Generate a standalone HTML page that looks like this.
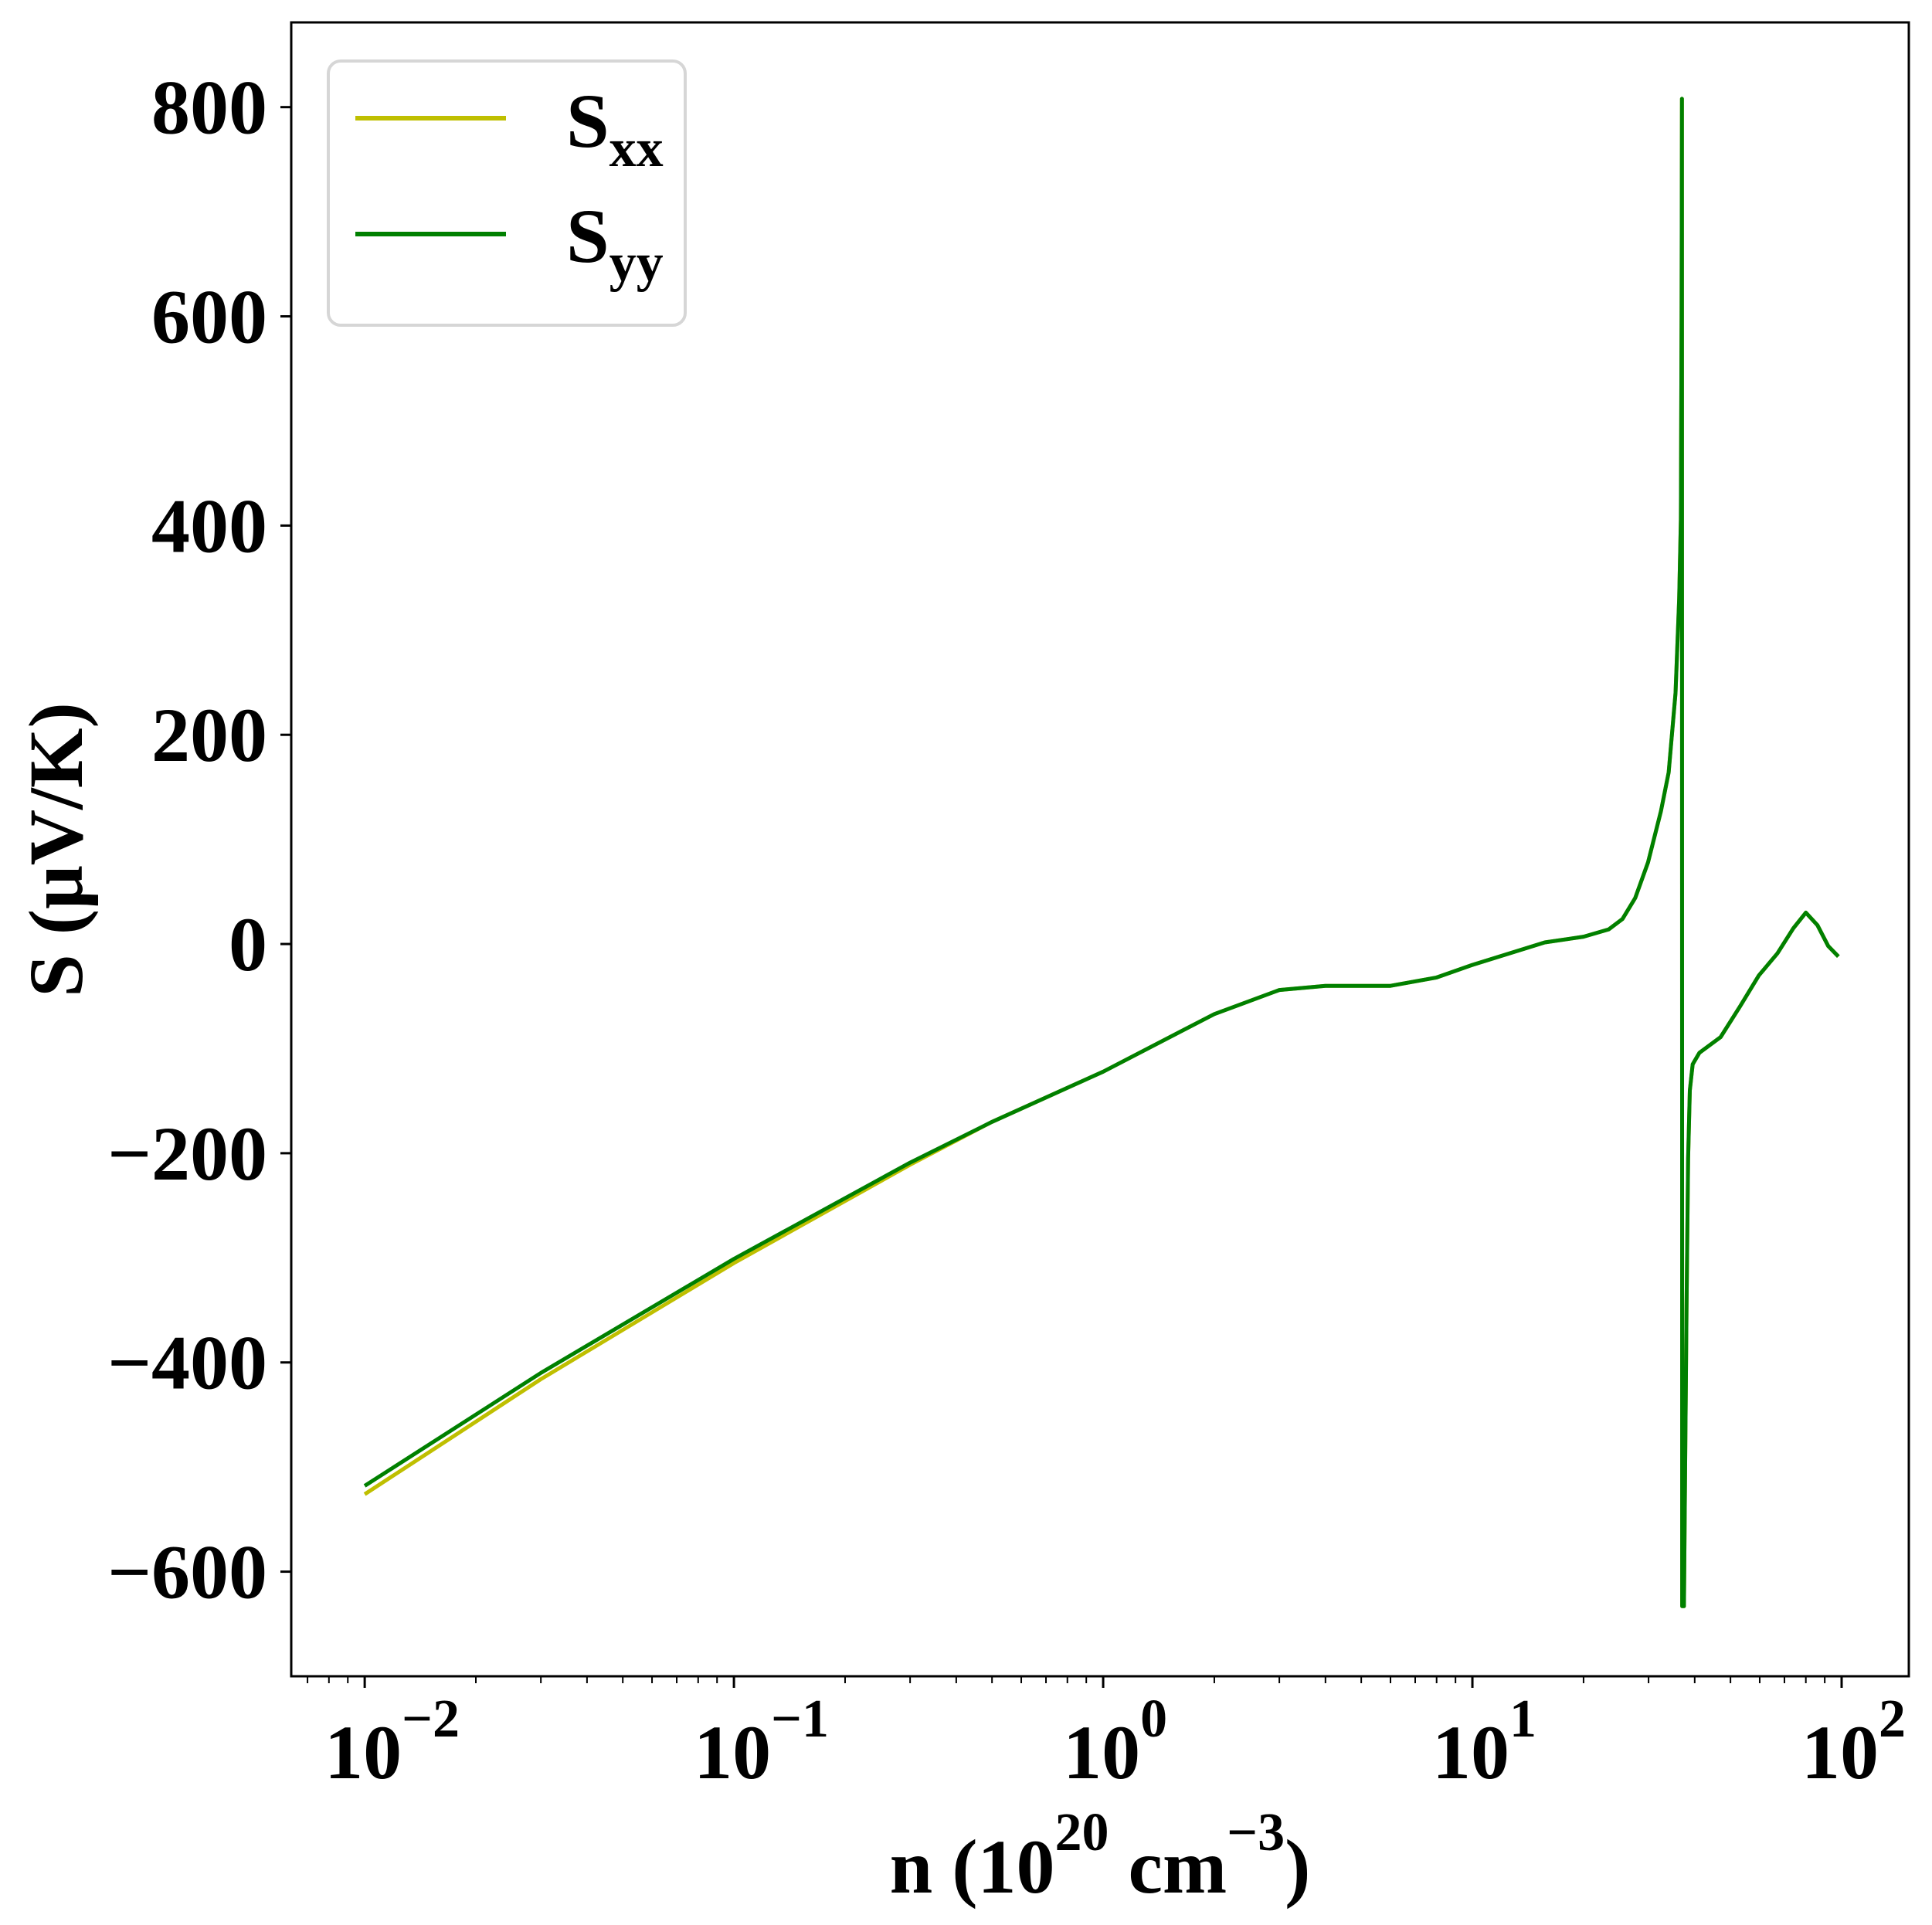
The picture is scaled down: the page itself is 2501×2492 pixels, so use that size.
<!DOCTYPE html>
<html><head><meta charset="utf-8"><style>
html,body{margin:0;padding:0;background:#fff;}
svg{display:block;font-family:"Liberation Serif",serif;font-weight:bold;}
</style></head><body>
<svg id="chart" width="2501" height="2492" viewBox="0 0 2501 2492" xmlns="http://www.w3.org/2000/svg">
<rect x="0" y="0" width="2501" height="2492" fill="#fff"/>
<g id="plot"></g>
<g id="axes"></g>
<g>
<rect x="425" y="79" width="462" height="342" rx="16" fill="#fff" fill-opacity="0.8" stroke="#d6d6d6" stroke-width="4"/>
<line x1="460" y1="153" x2="655" y2="153" stroke="#bfbf00" stroke-width="6"/>
<text x="733" y="190" font-size="100">S<tspan font-size="70" dy="25">xx</tspan></text>
<line x1="460" y1="303" x2="655" y2="303" stroke="#008000" stroke-width="6"/>
<text x="733" y="339" font-size="100">S<tspan font-size="70" dy="24">yy</tspan></text>
</g>
<text x="1424" y="2450" font-size="100" text-anchor="middle">n (10<tspan font-size="70" dy="-55">20</tspan><tspan dy="55"> cm</tspan><tspan font-size="70" dy="-55">−3</tspan><tspan dy="55">)</tspan></text>
<text transform="translate(106,1100) rotate(-90)" font-size="100" text-anchor="middle">S (μV/K)</text>
</svg>
<script>
const nVals = [0.01,0.03,0.1,0.3,0.5,1,2,3,4,6,8,10,15.7,20,23.4,25.5,27.6,29.9,32.4,34,35.5,36.3,36.7,36.85,36.95,37.0,37.4,38.0,38.4,38.8,39.5,41.2,47,53,59.7,67,74,80,86,92,98];
const syyVals = [-518,-410,-301,-209,-170,-122,-67,-44,-40,-40,-32,-20,1.5,7,14,24,44,78,127,164,240,330,406,600,808,-633,-633,-350,-205,-140,-115,-104,-89,-60,-30,-9,15,30,18,-2,-12];
const sxxVals = [-526,-416,-305,-211,-170,-122,-67,-44,-40,-40,-32,-20,1.5,7,14,24,44,78,127,164,240,330,406,600,808,-633,-633,-350,-205,-140,-115,-104,-89,-60,-30,-9,15,30,18,-2,-12];
const yTicks = [-600,-400,-200,0,200,400,600,800];
const yTickLabels = ["−600","−400","−200","0","200","400","600","800"];
const xTickExps = [-2,-1,0,1,2];
const xTickLabels = ["−2","−1","0","1","2"];

const L=377,R=2471,T=29,B=2170;
const xmin=-2.199,xmax=2.182,ymin=-700,ymax=881;
const NS="http://www.w3.org/2000/svg";
function xs(n){return L+(Math.log10(n)-xmin)/(xmax-xmin)*(R-L);}
function ys(v){return B-(v-ymin)/(ymax-ymin)*(B-T);}
function mk(tag,attrs,parent){const e=document.createElementNS(NS,tag);for(const k in attrs)e.setAttribute(k,attrs[k]);parent.appendChild(e);return e;}
const plot=document.getElementById('plot'),axes=document.getElementById('axes');

function series(vals,color,name){
  const d=vals.map((v,i)=>(i?'L':'M')+xs(nVals[i]).toFixed(1)+' '+ys(v).toFixed(1)).join(' ');
  const p=mk('path',{d:d,fill:'none',stroke:color,'stroke-width':5,'stroke-linejoin':'round','stroke-linecap':'butt'},plot);
  
  
}
series(sxxVals,'#bfbf00','sxx-line');
series(syyVals,'#008000','syy-line');

const frame=mk('rect',{x:L,y:T,width:R-L,height:B-T,fill:'none',stroke:'#000','stroke-width':3},axes);



yTicks.forEach((v,i)=>{
  const y=ys(v);
  const t=mk('line',{x1:L-14,y1:y,x2:L,y2:y,stroke:'#000','stroke-width':3},axes);
  
  
  const lb=mk('text',{x:L-31,y:y+34,'font-size':100,'text-anchor':'end'},axes);
  lb.textContent=yTickLabels[i];
  
  
});
xTickExps.forEach((e,i)=>{
  const x=xs(Math.pow(10,e));
  const t=mk('line',{x1:x,y1:B,x2:x,y2:B+15,stroke:'#000','stroke-width':3},axes);
  
  
  const lb=mk('text',{x:x-2,y:2302,'font-size':100,'text-anchor':'middle'},axes);
  lb.textContent='10';
  
  
  const sp=mk('text',{x:x+48,y:2248,'font-size':70,'text-anchor':'start'},axes);
  sp.textContent=xTickLabels[i];
  
  
});
for(let e=-3;e<=2;e++){
  for(let m=2;m<=9;m++){
    const n=m*Math.pow(10,e);
    const lg=Math.log10(n);
    if(lg<xmin||lg>xmax)continue;
    const x=xs(n);
    const t=mk('line',{x1:x,y1:B,x2:x,y2:B+9,stroke:'#000','stroke-width':2},axes);
    
    
  }
}
</script>
</body></html>
